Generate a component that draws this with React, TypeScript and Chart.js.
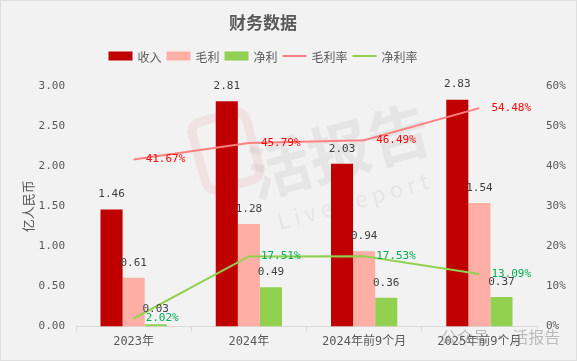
import React, { useEffect, useRef } from "react";
import { Chart, registerables } from "chart.js";

Chart.register(...registerables);

const categories = ["2023年", "2024年", "2024年前9个月", "2025年前9个月"];
const revenue = [1.46, 2.81, 2.03, 2.83];
const grossProfit = [0.61, 1.28, 0.94, 1.54];
const netProfit = [0.03, 0.49, 0.36, 0.37];
const grossMargin = [41.67, 45.79, 46.49, 54.48];
const netMargin = [2.02, 17.51, 17.53, 13.09];
const leftTicks = [0, 0.5, 1, 1.5, 2, 2.5, 3];
const rightTicks = [0, 10, 20, 30, 40, 50, 60];

const MONO = "'DejaVu Sans Mono', 'Noto Sans CJK SC', monospace";
const CJK = "'Noto Sans CJK SC', sans-serif";
const GRAY = "#595959";

const watermarkPlugin = {
  id: "watermark",
  beforeDatasetsDraw(chart: any) {
    const ctx = chart.ctx;
    ctx.save();
    ctx.translate(338, 150);
    ctx.rotate(-0.27);
    ctx.fillStyle = "rgba(140,140,140,0.12)";
    ctx.font = `bold 62px ${CJK}`;
    ctx.textAlign = "center";
    ctx.textBaseline = "middle";
    ctx.fillText("活报告", 0, 0);
    ctx.font = `22px ${CJK}`;
    ctx.fillText("L i v e R e p o r t", 0, 52);
    ctx.restore();
    ctx.save();
    ctx.translate(225, 150);
    ctx.rotate(-0.27);
    ctx.strokeStyle = "rgba(230,90,90,0.1)";
    ctx.lineWidth = 9;
    ctx.beginPath();
    ctx.roundRect(-28, -35, 56, 70, 10);
    ctx.stroke();
    ctx.restore();
  },
};

const labelsPlugin = {
  id: "valueLabels",
  afterDatasetsDraw(chart: any) {
    const ctx = chart.ctx;
    ctx.save();
    ctx.font = `11px ${MONO}`;
    chart.data.datasets.forEach((ds: any, i: number) => {
      const meta = chart.getDatasetMeta(i);
      meta.data.forEach((el: any, j: number) => {
        const v = ds.data[j];
        if (ds.type === "bar") {
          ctx.fillStyle = "#404040";
          ctx.textAlign = "center";
          ctx.textBaseline = "middle";
          ctx.fillText(v.toFixed(2), el.x, el.y - 15);
        } else {
          ctx.fillStyle = ds.labelColor;
          ctx.textAlign = "left";
          ctx.textBaseline = "middle";
          ctx.fillText(v.toFixed(2) + "%", el.x + 12, el.y);
        }
      });
    });
    ctx.restore();
  },
  afterDraw(chart: any) {
    const ctx = chart.ctx;
    ctx.save();
    ctx.fillStyle = GRAY;
    ctx.font = `bold 17px ${CJK}`;
    ctx.textAlign = "center";
    ctx.textBaseline = "middle";
    ctx.fillText("财务数据", 262, 22);
    ctx.font = `12px ${CJK}`;
    const items = chart.data.datasets.map((ds: any) => ({
      label: ds.label,
      color: ds.type === "bar" ? ds.backgroundColor : ds.borderColor,
      isBar: ds.type === "bar",
    }));
    const boxW = 24;
    const gap = 5;
    let total = 0;
    items.forEach((it: any, k: number) => {
      total += boxW + gap + ctx.measureText(it.label).width + (k < items.length - 1 ? gap : 0);
    });
    let x = 262 - total / 2;
    const y = 55;
    ctx.textAlign = "left";
    items.forEach((it: any) => {
      if (it.isBar) {
        ctx.fillStyle = it.color;
        ctx.fillRect(x, y - 4.5, boxW, 9);
      } else {
        ctx.strokeStyle = it.color;
        ctx.lineWidth = 2;
        ctx.beginPath();
        ctx.moveTo(x, y);
        ctx.lineTo(x + boxW, y);
        ctx.stroke();
      }
      x += boxW + gap;
      ctx.fillStyle = GRAY;
      ctx.fillText(it.label, x, y + 1);
      x += ctx.measureText(it.label).width + gap;
    });
    ctx.font = `16px ${CJK}`;
    ctx.fillStyle = "rgba(120,120,120,0.45)";
    ctx.textAlign = "left";
    ctx.fillText("公众号 · 活报告", 440, 336);
    ctx.restore();
  },
};

export default function App() {
  const ref = useRef<HTMLCanvasElement>(null);
  useEffect(() => {
    document.body.style.margin = "0";
    const chart = new Chart(ref.current!, {
      type: "bar",
      data: {
        labels: categories,
        datasets: [
          { type: "bar", label: "收入", data: revenue, backgroundColor: "#c00000", yAxisID: "y", order: 2 },
          { type: "bar", label: "毛利", data: grossProfit, backgroundColor: "#ffaea5", yAxisID: "y", order: 2 },
          { type: "bar", label: "净利", data: netProfit, backgroundColor: "#92d050", yAxisID: "y", order: 2 },
          {
            type: "line", label: "毛利率", data: grossMargin, borderColor: "#ff8080", borderWidth: 2,
            pointRadius: 0, tension: 0, yAxisID: "y1", order: 1, labelColor: "#ff0000",
          } as any,
          {
            type: "line", label: "净利率", data: netMargin, borderColor: "#92d050", borderWidth: 2,
            pointRadius: 0, tension: 0, yAxisID: "y1", order: 1, labelColor: "#00b050",
          } as any,
        ],
      },
      options: {
        animation: false,
        responsive: true,
        maintainAspectRatio: false,
        layout: { padding: { top: 85, bottom: 8, left: 0, right: 0 } },
        datasets: { bar: { categoryPercentage: 0.575, barPercentage: 1 } },
        plugins: {
          legend: { display: false },
          title: { display: false },
          tooltip: { enabled: false },
        },
        scales: {
          x: {
            grid: { display: true, drawOnChartArea: false, offset: true, tickLength: 5, color: "#d9d9d9" },
            border: { display: true, color: "#d9d9d9" },
            ticks: { color: GRAY, font: { family: MONO, size: 12 }, padding: 3, maxRotation: 0, autoSkip: false },
          },
          y: {
            position: "left",
            min: 0,
            max: 3,
            afterBuildTicks: (s: any) => { s.ticks = leftTicks.map((v) => ({ value: v })); },
            afterFit: (s: any) => { s.width = 75; },
            grid: { display: false, drawTicks: false },
            border: { display: false },
            ticks: { color: GRAY, font: { family: MONO, size: 11 }, padding: 11, callback: (v: any) => Number(v).toFixed(2) },
            title: { display: true, text: "亿人民币", color: GRAY, font: { family: CJK, size: 13 }, padding: { top: 19, bottom: 0 } },
          },
          y1: {
            position: "right",
            min: 0,
            max: 60,
            afterBuildTicks: (s: any) => { s.ticks = rightTicks.map((v) => ({ value: v })); },
            afterFit: (s: any) => { s.width = 39; },
            grid: { display: false, drawTicks: false },
            border: { display: false },
            ticks: { color: GRAY, font: { family: MONO, size: 11 }, padding: 9, callback: (v: any) => v + "%" },
          },
        },
      },
      plugins: [watermarkPlugin, labelsPlugin],
    });
    return () => chart.destroy();
  }, []);
  return (
    <div style={{ width: 577, height: 361, background: "#f2f2f2", boxSizing: "border-box", border: "1px solid #dedede", position: "relative" }}>
      <canvas ref={ref} />
    </div>
  );
}
